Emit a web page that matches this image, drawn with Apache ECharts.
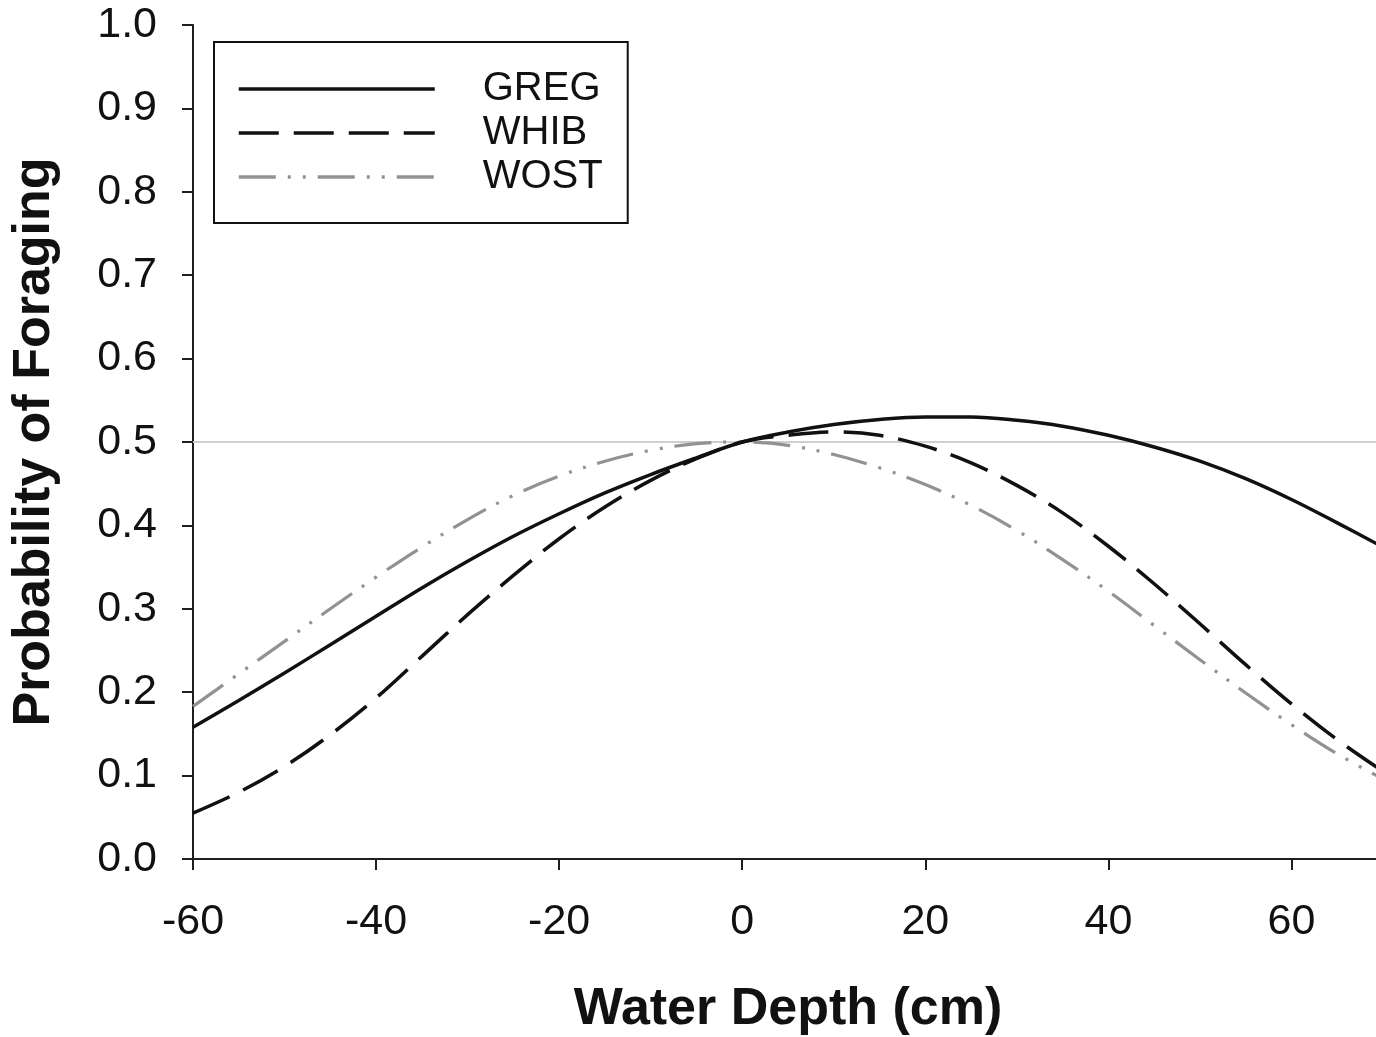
<!DOCTYPE html>
<html>
<head>
<meta charset="utf-8">
<title>Probability of Foraging vs Water Depth</title>
<script src="https://cdn.jsdelivr.net/npm/echarts@6/dist/echarts.min.js"></script>
<style>
  html, body { margin: 0; padding: 0; background: #ffffff; }
  #chart { width: 1376px; height: 1037px; }
</style>
</head>
<body>
<div id="chart"></div>
<script>
// Water depth (cm) at which each fitted curve is sampled
const depth = [-60, -55, -50, -45, -40, -35, -30, -25, -20, -15, -10, -5, 0,
               5, 10, 15, 20, 25, 30, 35, 40, 45, 50, 55, 60, 65, 70];

// Probability of foraging, one list per species
const greg = [0.158, 0.190, 0.223, 0.257, 0.291, 0.325, 0.357, 0.387, 0.414, 0.439, 0.461, 0.481, 0.500,
              0.512, 0.521, 0.527, 0.530, 0.530, 0.526, 0.519, 0.508, 0.494, 0.477, 0.456, 0.431, 0.403, 0.374];
const whib = [0.055, 0.080, 0.111, 0.149, 0.193, 0.243, 0.293, 0.340, 0.384, 0.422, 0.454, 0.480, 0.500,
              0.508, 0.512, 0.508, 0.495, 0.475, 0.448, 0.415, 0.375, 0.330, 0.282, 0.233, 0.186, 0.143, 0.105];
const wost = [0.183, 0.222, 0.261, 0.300, 0.338, 0.374, 0.407, 0.436, 0.459, 0.477, 0.490, 0.498, 0.500,
              0.496, 0.485, 0.469, 0.449, 0.424, 0.394, 0.359, 0.321, 0.280, 0.239, 0.199, 0.161, 0.126, 0.096];

const seriesNames = ['GREG', 'WHIB', 'WOST'];

// Horizontal reference at even odds
const refLevel = 0.5;

// Axis ticks
const xTickLabels = [-60, -40, -20, 0, 20, 40, 60];
const xMin = -60, xMax = 70, xStep = 20;
const yMin = 0, yMax = 1, yStep = 0.1;

const pairs = vals => depth.map((d, i) => [d, vals[i]]);

const FONT = '"Liberation Sans", Arial, Helvetica, sans-serif';
const AXIS_COLOR = '#1e1e1e';

const chart = echarts.init(document.getElementById('chart'), null, { renderer: 'canvas' });

chart.setOption({
  animation: false,
  backgroundColor: '#ffffff',
  textStyle: { fontFamily: FONT },
  grid: {
    left: 193, top: 25, right: -7, bottom: 178,
    containLabel: false,
    outerBoundsMode: 'none'
  },
  legend: {
    data: seriesNames,
    orient: 'vertical',
    left: 214,
    top: 42,
    padding: [27, 25, 26, 23],
    borderColor: '#111111',
    borderWidth: 2,
    itemWidth: 196,
    itemHeight: 40,
    itemGap: 4,
    selectedMode: false,
    itemStyle: { opacity: 0, borderWidth: 0 },
    lineStyle: { width: 3.5 },
    textStyle: {
      fontFamily: FONT,
      fontSize: 40,
      color: '#111111',
      padding: [4, 0, 0, 43]
    }
  },
  xAxis: {
    type: 'value',
    min: xMin,
    max: xMax,
    interval: xStep,
    name: 'Water Depth (cm)',
    nameLocation: 'middle',
    nameGap: 125,
    nameTextStyle: { fontFamily: FONT, fontSize: 52, fontWeight: 'bold', color: '#111111' },
    axisLine: { show: true, onZero: false, lineStyle: { color: AXIS_COLOR, width: 2 } },
    axisTick: { show: true, inside: false, length: 11, lineStyle: { color: AXIS_COLOR, width: 2 } },
    axisLabel: {
      margin: 42,
      fontFamily: FONT,
      fontSize: 43,
      color: '#111111',
      showMaxLabel: false,
      formatter: v => (xTickLabels.indexOf(v) >= 0 ? String(v) : '')
    },
    splitLine: { show: false }
  },
  yAxis: {
    type: 'value',
    min: yMin,
    max: yMax,
    interval: yStep,
    name: 'Probability of Foraging',
    nameLocation: 'middle',
    nameGap: 132,
    nameTextStyle: { fontFamily: FONT, fontSize: 52, fontWeight: 'bold', color: '#111111' },
    axisLine: { show: true, onZero: false, lineStyle: { color: AXIS_COLOR, width: 2 } },
    axisTick: { show: true, inside: false, length: 11, lineStyle: { color: AXIS_COLOR, width: 2 } },
    axisLabel: {
      margin: 36,
      fontFamily: FONT,
      fontSize: 43,
      color: '#111111',
      formatter: v => v.toFixed(1)
    },
    splitLine: { show: false }
  },
  series: [
    {
      name: 'ref',
      type: 'line',
      data: [[xMin, refLevel], [xMax, refLevel]],
      symbol: 'none',
      silent: true,
      z: 1,
      lineStyle: { color: '#cfcfcf', width: 2 }
    },
    {
      name: 'GREG',
      type: 'line',
      data: pairs(greg),
      smooth: 0.35,
      symbol: 'none',
      z: 3,
      color: '#111111',
      lineStyle: { color: '#111111', width: 3.5, type: 'solid' }
    },
    {
      name: 'WHIB',
      type: 'line',
      data: pairs(whib),
      smooth: 0.35,
      symbol: 'none',
      z: 3,
      color: '#111111',
      lineStyle: { color: '#111111', width: 3.5, type: [40, 15], cap: 'butt' }
    },
    {
      name: 'WOST',
      type: 'line',
      data: pairs(wost),
      smooth: 0.35,
      symbol: 'none',
      z: 2,
      color: '#929292',
      lineStyle: { color: '#929292', width: 3.2, type: [37, 12, 3, 12, 3, 12], cap: 'butt' }
    }
  ]
});
</script>
</body>
</html>
